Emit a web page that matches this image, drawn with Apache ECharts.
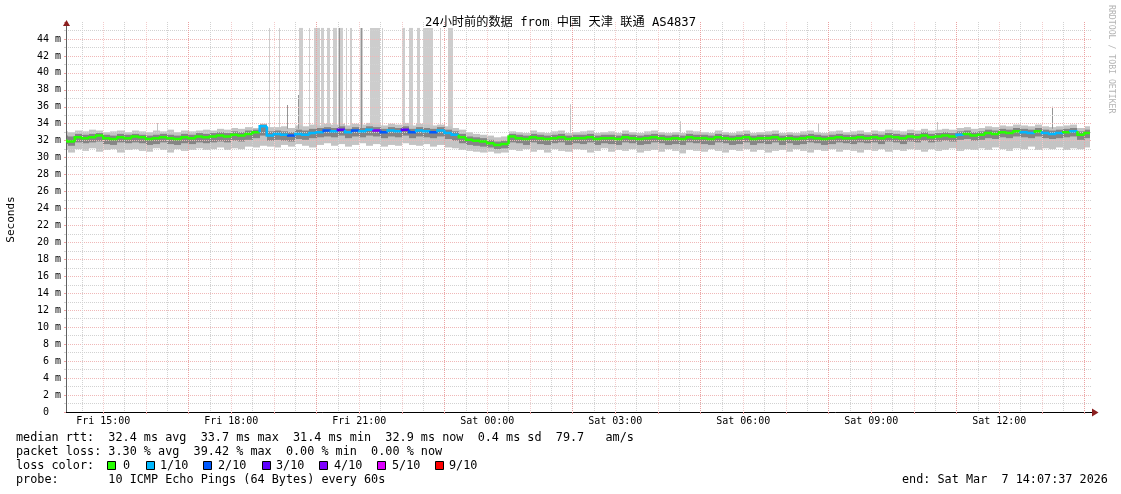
<!DOCTYPE html>
<html><head><meta charset="utf-8">
<script src="https://cdn.jsdelivr.net/npm/echarts@6/dist/echarts.min.js"></script>
<style>html,body{margin:0;padding:0;background:#fff}#c{width:1121px;height:494px}</style>
</head><body><div id="c"></div>
<script>
// ---------------- DATA ----------------
const TITLE = '24小时前的数据 from 中国 天津 联通 AS4837';
const RANGE_START = 'Fri 14:07:37';
const RANGE_END = 'Sat 14:07:37';
const FIRST_SAMPLE = 'Fri 14:10';
const STEP_MIN = 10;

// median rtt (ms) per 10-minute step
const median = [
  32.0, 31.9, 32.4, 32.3, 32.4, 32.6, 32.3, 32.2, 32.4, 32.3,
  32.5, 32.4, 32.2, 32.3, 32.4, 32.3, 32.2, 32.4, 32.3, 32.5,
  32.4, 32.5, 32.6, 32.5, 32.7, 32.6, 32.8, 33.0, 33.7, 32.6,
  32.8, 32.7, 32.6, 32.8, 32.7, 32.9, 33.0, 33.2, 33.1, 33.3,
  33.0, 33.2, 33.1, 33.3, 33.2, 33.0, 33.2, 33.1, 33.3, 33.0,
  33.2, 33.1, 33.0, 33.2, 32.9, 32.7, 32.4, 32.1, 32.0, 31.9,
  31.7, 31.5, 31.6, 32.5, 32.3, 32.2, 32.4, 32.3, 32.2, 32.3,
  32.4, 32.2, 32.3, 32.3, 32.4, 32.2, 32.3, 32.3, 32.2, 32.4,
  32.3, 32.2, 32.3, 32.4, 32.3, 32.2, 32.3, 32.2, 32.4, 32.3,
  32.3, 32.2, 32.4, 32.3, 32.2, 32.3, 32.4, 32.2, 32.3, 32.3,
  32.4, 32.2, 32.3, 32.2, 32.3, 32.4, 32.3, 32.2, 32.3, 32.4,
  32.3, 32.3, 32.4, 32.3, 32.4, 32.3, 32.5, 32.4, 32.3, 32.5,
  32.4, 32.6, 32.4, 32.5, 32.6, 32.5, 32.7, 32.8, 32.6, 32.7,
  32.9, 32.8, 33.0, 32.9, 33.1, 33.0, 32.9, 33.1, 32.9, 32.8,
  32.9, 33.0, 33.1, 32.7, 32.9
];
// lost pings out of 10 per step
const lossTenths = [
  0,0,0,0,0,0,0,0,0,0,
  0,0,0,0,0,0,0,0,0,0,
  0,0,0,0,0,0,0,0,1,1,
  1,1,2,1,1,1,1,2,1,3,
  1,2,1,1,4,2,1,1,3,2,
  1,1,2,1,1,1,0,0,0,0,
  0,0,0,0,0,0,0,0,0,0,
  0,0,0,0,0,0,0,0,0,0,
  0,0,0,0,0,0,0,0,0,0,
  0,0,0,0,0,0,0,0,0,0,
  0,0,0,0,0,0,0,0,0,0,
  0,0,0,0,0,0,0,0,0,0,
  0,0,0,0,0,0,1,0,0,0,
  0,0,0,0,0,1,1,0,1,1,
  1,0,1,0,0
];
// smoke: fastest / slowest ping per step
const smokeLo = [
  30.9, 30.6, 31.0, 30.8, 31.1, 30.7, 30.9, 31.0, 30.6, 30.9,
  31.0, 30.8, 30.7, 31.1, 30.9, 30.6, 31.0, 30.8, 30.9, 31.1,
  30.9, 31.0, 31.2, 30.9, 31.1, 31.0, 31.3, 31.2, 31.4, 31.3,
  31.2, 31.5, 31.3, 31.6, 31.4, 31.2, 31.5, 31.7, 31.4, 31.6,
  31.3, 31.5, 31.7, 31.4, 31.6, 31.3, 31.5, 31.4, 31.7, 31.5,
  31.4, 31.6, 31.3, 31.5, 31.2, 31.1, 30.9, 30.8, 30.7, 30.6,
  30.7, 30.5, 30.6, 30.9, 30.8, 31.0, 30.7, 30.9, 30.6, 31.0,
  30.8, 30.7, 31.0, 30.9, 30.6, 30.8, 31.1, 30.7, 30.9, 30.8,
  31.0, 30.6, 30.8, 30.9, 30.7, 31.0, 30.8, 30.5, 30.9, 30.8,
  30.7, 31.0, 30.8, 30.6, 30.9, 30.8, 31.0, 30.7, 30.9, 30.6,
  30.8, 30.9, 30.7, 31.0, 30.8, 30.6, 30.9, 30.8, 31.0, 30.7,
  30.9, 30.8, 30.6, 30.9, 30.8, 31.0, 30.7, 30.9, 30.8, 31.0,
  30.9, 30.7, 31.0, 30.8, 30.9, 31.1, 30.8, 31.0, 30.9, 31.1,
  30.9, 31.2, 31.0, 30.8, 31.1, 31.0, 31.3, 30.9, 31.1, 31.0,
  31.2, 30.9, 31.1, 31.0, 31.2
];
const smokeHi = [
  33.1, 33.0, 33.2, 33.1, 33.3, 33.2, 33.0, 33.1, 33.2, 33.0,
  33.2, 33.1, 33.0, 33.2, 33.1, 33.3, 33.0, 33.2, 33.1, 33.2,
  33.3, 33.2, 33.4, 33.3, 33.5, 33.4, 33.6, 33.5, 34.0, 33.6,
  33.6, 33.7, 33.5, 33.8, 33.7, 33.9, 33.8, 34.0, 33.9, 34.0,
  33.8, 34.0, 33.9, 34.1, 33.9, 33.8, 34.0, 33.9, 34.1, 33.8,
  34.0, 33.9, 33.8, 33.9, 33.7, 33.5, 33.3, 33.0, 32.8, 32.7,
  32.6, 32.4, 32.5, 33.1, 33.0, 32.9, 33.2, 33.0, 32.9, 33.1,
  33.2, 32.9, 33.0, 33.1, 33.2, 32.9, 33.0, 33.1, 32.9, 33.2,
  33.0, 32.9, 33.1, 33.2, 33.0, 32.9, 33.0, 32.9, 33.2, 33.1,
  33.0, 32.9, 33.2, 33.0, 32.9, 33.1, 33.2, 32.9, 33.0, 33.1,
  33.2, 32.9, 33.0, 32.9, 33.1, 33.2, 33.0, 32.9, 33.1, 33.2,
  33.0, 33.1, 33.2, 33.0, 33.2, 33.1, 33.3, 33.2, 33.1, 33.3,
  33.2, 33.4, 33.2, 33.3, 33.4, 33.3, 33.5, 33.6, 33.4, 33.5,
  33.7, 33.6, 33.8, 33.7, 33.9, 33.8, 33.7, 33.9, 33.7, 33.6,
  33.7, 33.8, 33.9, 33.5, 33.7
];
// smoke core: middle pings per step
const coreLo = [
  31.6, 31.4, 31.8, 31.7, 31.8, 31.9, 31.6, 31.5, 31.8, 31.7,
  31.8, 31.7, 31.5, 31.6, 31.8, 31.6, 31.5, 31.7, 31.6, 31.8,
  31.7, 31.8, 31.9, 31.8, 32.0, 31.9, 32.1, 32.3, 32.6, 32.0,
  32.1, 32.0, 31.9, 32.2, 32.1, 32.3, 32.4, 32.5, 32.4, 32.6,
  32.3, 32.5, 32.4, 32.6, 32.5, 32.3, 32.5, 32.4, 32.6, 32.3,
  32.5, 32.4, 32.3, 32.5, 32.2, 32.0, 31.7, 31.5, 31.4, 31.3,
  31.2, 31.0, 31.1, 31.8, 31.7, 31.5, 31.8, 31.6, 31.5, 31.7,
  31.8, 31.5, 31.7, 31.6, 31.8, 31.5, 31.7, 31.6, 31.5, 31.8,
  31.7, 31.5, 31.6, 31.8, 31.7, 31.5, 31.6, 31.5, 31.8, 31.7,
  31.6, 31.5, 31.8, 31.7, 31.5, 31.6, 31.8, 31.5, 31.7, 31.6,
  31.8, 31.5, 31.7, 31.5, 31.6, 31.8, 31.7, 31.5, 31.6, 31.8,
  31.7, 31.6, 31.8, 31.7, 31.8, 31.6, 31.9, 31.8, 31.6, 31.9,
  31.8, 32.0, 31.8, 31.9, 32.0, 31.9, 32.1, 32.2, 32.0, 32.1,
  32.3, 32.2, 32.4, 32.3, 32.5, 32.4, 32.3, 32.5, 32.3, 32.2,
  32.3, 32.4, 32.5, 32.1, 32.3
];
const coreHi = [
  32.6, 32.5, 32.8, 32.7, 32.8, 32.9, 32.7, 32.6, 32.8, 32.7,
  32.8, 32.7, 32.6, 32.7, 32.8, 32.7, 32.6, 32.8, 32.7, 32.9,
  32.8, 32.9, 33.0, 32.9, 33.1, 33.0, 33.2, 33.3, 33.9, 33.1,
  33.2, 33.1, 33.0, 33.3, 33.2, 33.4, 33.5, 33.6, 33.5, 33.7,
  33.4, 33.6, 33.5, 33.7, 33.6, 33.4, 33.6, 33.5, 33.7, 33.4,
  33.6, 33.5, 33.4, 33.6, 33.3, 33.1, 32.8, 32.5, 32.4, 32.3,
  32.1, 31.9, 32.0, 32.8, 32.7, 32.6, 32.8, 32.7, 32.6, 32.7,
  32.8, 32.6, 32.7, 32.7, 32.8, 32.6, 32.7, 32.7, 32.6, 32.8,
  32.7, 32.6, 32.7, 32.8, 32.7, 32.6, 32.7, 32.6, 32.8, 32.7,
  32.7, 32.6, 32.8, 32.7, 32.6, 32.7, 32.8, 32.6, 32.7, 32.7,
  32.8, 32.6, 32.7, 32.6, 32.7, 32.8, 32.7, 32.6, 32.7, 32.8,
  32.7, 32.7, 32.8, 32.7, 32.8, 32.7, 32.9, 32.8, 32.7, 32.9,
  32.8, 33.0, 32.8, 32.9, 33.0, 32.9, 33.1, 33.2, 33.0, 33.1,
  33.3, 33.2, 33.4, 33.3, 33.5, 33.4, 33.3, 33.5, 33.3, 33.2,
  33.3, 33.4, 33.5, 33.1, 33.3
];
// spans where lost pings push the smoke to the top of the graph
const lossSpans = [
  ['Fri 18:53','Fri 18:54'], ['Fri 19:07','Fri 19:09'], ['Fri 19:35','Fri 19:41'],
  ['Fri 19:50','Fri 19:51'], ['Fri 19:56','Fri 20:00'], ['Fri 20:01','Fri 20:05'],
  ['Fri 20:06','Fri 20:10'], ['Fri 20:14','Fri 20:19'], ['Fri 20:23','Fri 20:29'],
  ['Fri 20:30','Fri 20:37'], ['Fri 20:42','Fri 20:43'], ['Fri 20:47','Fri 20:50'],
  ['Fri 21:01','Fri 21:02'], ['Fri 21:04','Fri 21:05'], ['Fri 21:15','Fri 21:29'],
  ['Fri 21:32','Fri 21:33'], ['Fri 22:00','Fri 22:04'], ['Fri 22:10','Fri 22:16'],
  ['Fri 22:21','Fri 22:25'], ['Fri 22:30','Fri 22:44'], ['Fri 22:53','Fri 22:54'],
  ['Fri 23:05','Fri 23:12']
];
const LOSS_SPAN_LOW = 33.5;
const LOSS_SPAN_TOP = 45.3;
// single slow pings (time, slowest ping ms)
const lightSpikes = [['Fri 16:15', 34.1], ['Sat 01:56', 36.3], ['Sat 04:31', 34.3], ['Sat 07:45', 34.1], ['Sat 10:32', 34.2]];
const darkSpikes = [['Fri 19:18', 36.2], ['Fri 19:34', 37.4], ['Fri 20:31', 45.3], ['Fri 21:03', 45.3], ['Sat 13:14', 36.0]];

const xLabels = ['Fri 15:00', 'Fri 18:00', 'Fri 21:00', 'Sat 00:00', 'Sat 03:00', 'Sat 06:00', 'Sat 09:00', 'Sat 12:00'];
const yMax = 46;
const yStep = 2;

const legendLossLabels = ['0', '1/10', '2/10', '3/10', '4/10', '5/10', '9/10'];
const legendLossColors = ['#26ff00', '#00b8ff', '#0059ff', '#5e00ff', '#7e00ff', '#dd00ff', '#ff0000'];
const statLines = [
  'median rtt:  32.4 ms avg  33.7 ms max  31.4 ms min  32.9 ms now  0.4 ms sd  79.7   am/s',
  'packet loss: 3.30 % avg  39.42 % max  0.00 % min  0.00 % now',
  'loss color:',
  'probe:       10 ICMP Echo Pings (64 Bytes) every 60s'
];
const endText = 'end: Sat Mar  7 14:07:37 2026';
const sideText = 'RRDTOOL / TOBI OETIKER';

// ---------------- BUILD ----------------
[smokeLo, smokeHi, coreLo, coreHi, lossTenths].forEach((a, k) => {
  if (a.length !== median.length) throw new Error('length mismatch ' + k + ': ' + a.length + ' vs ' + median.length);
});
const DAY = {Fri: 0, Sat: 1440};
function parseT(s) { const [d, hms] = s.split(' '); const p = hms.split(':').map(Number); return DAY[d] + p[0] * 60 + p[1] + (p[2] || 0) / 60; }
const xMin = parseT(RANGE_START);
const xEnd = parseT(RANGE_END);
const xMax = xEnd + 2.8;
const t0 = parseT(FIRST_SAMPLE);
const times = median.map((_, i) => t0 + i * STEP_MIN);
function lossColor(l) { if (l >= 9) return legendLossColors[6]; if (l >= 5) return legendLossColors[5]; return legendLossColors[l]; }

const hourTicks = [], threeHourTicks = [], halfHourTicks = [];
for (let t = Math.ceil(xMin / 60) * 60; t <= xEnd; t += 60) {
  if (((t / 60) - 17) % 3 === 0) threeHourTicks.push(t); else hourTicks.push(t);
}
const allHours = hourTicks.concat(threeHourTicks).sort((a, b) => a - b);
for (let t = Math.ceil((xMin - 30) / 60) * 60 + 30; t <= xEnd; t += 60) if (t >= xMin) halfHourTicks.push(t);
const labelMap = {}; xLabels.forEach(s => { labelMap[parseT(s)] = s; });

const MONO = '"DejaVu Sans Mono", "Noto Sans CJK SC", monospace';
const RED = '#f0b8b8', RED_STRONG = '#eaa2a2', RED_LIGHT = '#f3cccc', GREY = '#d2d2d2';

function rectBetween(api, ta, tb, lo, hi, fill) {
  const a = api.coord([Math.max(ta, xMin), hi]);
  const b = api.coord([Math.min(tb, xEnd), lo]);
  const x0 = Math.round(a[0]);
  let x1 = Math.round(b[0]); if (x1 <= x0) x1 = x0 + 1;
  return {type: 'rect', shape: {x: x0, y: a[1], width: x1 - x0, height: b[1] - a[1]}, style: {fill: fill}};
}

const series = [
  {type: 'custom', name: 'lossSpans', z: 1, clip: true,
   data: lossSpans.map(s => [parseT(s[0]), parseT(s[1]), LOSS_SPAN_LOW, LOSS_SPAN_TOP]),
   renderItem: (p, api) => rectBetween(api, api.value(0), api.value(1), api.value(2), api.value(3), '#cdcdcd')},
  {type: 'custom', name: 'lightSpikes', z: 1, clip: true,
   data: lightSpikes.map(s => [parseT(s[0]), s[1]]),
   renderItem: (p, api) => rectBetween(api, api.value(0), api.value(0) + 1, 32.8, api.value(1), '#c4c4c4')},
  {type: 'custom', name: 'smoke', z: 1, clip: true,
   data: times.map((t, i) => [t, smokeLo[i], smokeHi[i]]),
   renderItem: (p, api) => rectBetween(api, api.value(0) - STEP_MIN, api.value(0), api.value(1), api.value(2), '#c4c4c4')},
  {type: 'custom', name: 'darkSpikes', z: 1, clip: true,
   data: darkSpikes.map(s => [parseT(s[0]), s[1]]),
   renderItem: (p, api) => rectBetween(api, api.value(0), api.value(0) + 1, 33.4, api.value(1), '#959595')},
  {type: 'custom', name: 'smokeCore', z: 1, clip: true,
   data: times.map((t, i) => [t, coreLo[i], coreHi[i]]),
   renderItem: (p, api) => rectBetween(api, api.value(0) - STEP_MIN, api.value(0), api.value(1), api.value(2), '#858585')},
  {type: 'custom', name: 'median', z: 6, clip: true,
   data: times.map((t, i) => [t, median[i], i ? median[i - 1] : median[i], lossTenths[i]]),
   renderItem: (p, api) => {
     const t = api.value(0), m = api.value(1), pm = api.value(2), l = api.value(3);
     const ta = Math.max(t - STEP_MIN, xMin), tb = Math.min(t, xEnd);
     const a = api.coord([ta, pm]), b = api.coord([ta, m]), c = api.coord([tb, m]);
     return {type: 'polyline', shape: {points: [a, b, c]}, style: {stroke: lossColor(l), lineWidth: 2.5, fill: null}};
   }}
];

const hiddenX = (ticks, color) => ({
  type: 'value', min: xMin, max: xMax, position: 'bottom', z: 3,
  axisLine: {show: false}, axisLabel: {show: false},
  axisTick: {show: false, customValues: ticks},
  splitLine: {show: true, lineStyle: {color: color, type: [1, 1], width: 1}}
});

const graphic = [];
// axis arrows
graphic.push({type: 'polygon', shape: {points: [[63, 26], [70, 26], [66.5, 20]]}, style: {fill: '#8b1f1f'}, z: 10});
graphic.push({type: 'polygon', shape: {points: [[1092, 408.5], [1092, 416.5], [1098.5, 412.5]]}, style: {fill: '#8b1f1f'}, z: 10});
// title
graphic.push({type: 'text', x: 560.5, y: 22.5, z: 10, style: {text: TITLE, font: '12.2px ' + MONO, fill: '#000', align: 'center', verticalAlign: 'middle'}});
// y name
graphic.push({type: 'text', x: 11, y: 219.5, rotation: Math.PI / 2, z: 10, style: {text: 'Seconds', font: '11px ' + MONO, fill: '#000', align: 'center', verticalAlign: 'middle'}});
// side text
graphic.push({type: 'text', x: 1111, y: 5, rotation: -Math.PI / 2, z: 10, style: {text: sideText, font: '8.2px ' + MONO, fill: '#b4b4b4', align: 'left', verticalAlign: 'middle'}});
// stats
const rowY = [438, 452, 466, 480];
statLines.forEach((s, k) => graphic.push({type: 'text', x: 16, y: rowY[k], z: 10, style: {text: s, font: '11.8px ' + MONO, fill: '#000', align: 'left', verticalAlign: 'middle'}}));
graphic.push({type: 'text', x: 902, y: rowY[3], z: 10, style: {text: endText, font: '11.8px ' + MONO, fill: '#000', align: 'left', verticalAlign: 'middle'}});
const boxX = [107.5, 146.5, 203.5, 262.5, 319.5, 377.5, 435.5];
const boxTextX = [123, 160, 218, 276, 334, 392, 449];
legendLossLabels.forEach((lab, k) => {
  graphic.push({type: 'rect', z: 10, shape: {x: boxX[k], y: rowY[2] - 4.5, width: 8, height: 8}, style: {fill: legendLossColors[k], stroke: '#000', lineWidth: 1}});
  graphic.push({type: 'text', x: boxTextX[k], y: rowY[2], z: 10, style: {text: lab, font: '11.8px ' + MONO, fill: '#000', align: 'left', verticalAlign: 'middle'}});
});

const option = {
  animation: false,
  backgroundColor: '#ffffff',
  grid: {left: 66, right: 29, top: 22, bottom: 82},
  xAxis: [
    {type: 'value', min: xMin, max: xMax, position: 'bottom', z: 3,
     axisLine: {show: true, onZero: false, lineStyle: {color: '#000', width: 1}},
     axisTick: {show: true, customValues: allHours, length: 2, lineStyle: {color: RED_STRONG}},
     axisLabel: {show: true, customValues: xLabels.map(parseT), formatter: v => labelMap[v] || '', fontFamily: MONO, fontSize: 10, color: '#000', margin: 4},
     splitLine: {show: true, lineStyle: {color: RED_LIGHT, type: [1, 1], width: 1}}},
    hiddenX(halfHourTicks, GREY),
    hiddenX(threeHourTicks, RED_STRONG)
  ],
  yAxis: {
    type: 'value', min: 0, max: yMax, interval: yStep, z: 3,
    axisLine: {show: true, onZero: false, lineStyle: {color: '#606060', width: 1}},
    axisTick: {show: true, length: 2, lineStyle: {color: RED_STRONG}},
    minorTick: {show: true, splitNumber: 2, length: 2, lineStyle: {color: GREY}},
    axisLabel: {formatter: v => (v === 0 ? '0  ' : v + ' m'), showMaxLabel: false, fontFamily: MONO, fontSize: 10, color: '#000', margin: 5},
    splitLine: {show: true, showMaxLine: false, lineStyle: {color: RED, type: [1, 1], width: 1}},
    minorSplitLine: {show: true, lineStyle: {color: GREY, type: [1, 1], width: 1}}
  },
  series: series,
  graphic: graphic
};
const chart = echarts.init(document.getElementById('c'), null, {renderer: 'canvas'});
chart.setOption(option);
</script>
</body></html>
